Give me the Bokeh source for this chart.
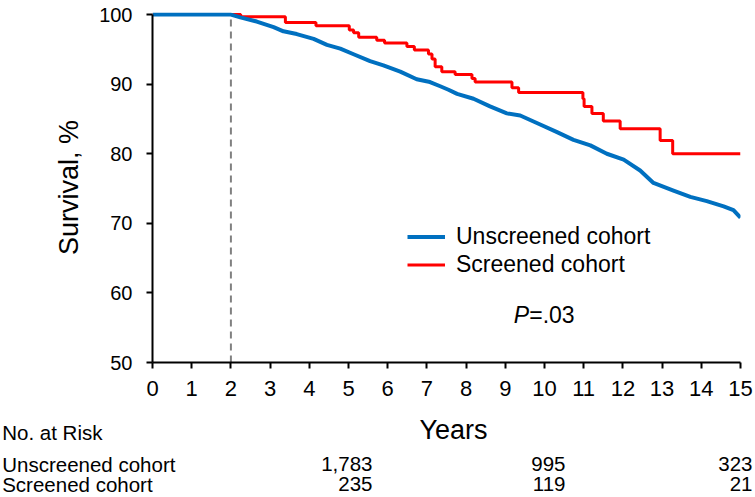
from bokeh.plotting import figure
from bokeh.layouts import column
from bokeh.models import Range1d, FixedTicker, Legend, LegendItem, Label
from bokeh.core.properties import value
from bokeh.embed import file_html
from bokeh.resources import INLINE

# ---------------- data ----------------
unscreened_years = [0, 2.0, 2.24, 2.66, 3.09, 3.34, 3.68, 4.11, 4.45, 4.79, 5.13, 5.55,
                    5.89, 6.32, 6.74, 7.08, 7.34, 7.55, 7.77, 8.19, 8.61, 9.04, 9.38,
                    9.89, 10.32, 10.74, 11.17, 11.59, 12.02, 12.44, 12.78, 13.29, 13.72,
                    14.14, 14.57, 14.82, 15.0]
unscreened_survival = [100, 100, 99.6, 99.0, 98.2, 97.6, 97.2, 96.5, 95.65, 95.1, 94.3, 93.3,
                       92.7, 91.8, 90.7, 90.3, 89.7, 89.2, 88.6, 87.9, 86.8, 85.8, 85.5,
                       84.2, 83.1, 82.0, 81.2, 80.0, 79.15, 77.6, 75.8, 74.7, 73.8,
                       73.2, 72.45, 71.9, 70.8]

screened_years = [0, 2.25, 3.39, 4.17, 5.02, 5.13, 5.26, 5.72, 5.92, 6.49, 6.68, 7.04,
                  7.13, 7.21, 7.38, 7.72, 8.15, 8.23, 9.17, 9.34, 10.98, 11.01, 11.21,
                  11.5, 11.93, 12.95, 13.27, 15.0]
screened_survival = [100, 99.7, 98.85, 98.4, 97.8, 97.4, 96.75, 96.3, 95.9, 95.4, 94.9, 94.35,
                     93.6, 92.5, 91.8, 91.4, 90.8, 90.3, 89.5, 88.8, 87.9, 86.8, 85.8,
                     84.7, 83.6, 81.9, 80.0, 80.0]

x_ticks = list(range(0, 16))
y_ticks = [50, 60, 70, 80, 90, 100]
landmark_year = 2

risk_times = [5, 10, 15]
risk_unscreened = ["1,783", "995", "323"]
risk_screened = ["235", "119", "21"]
series_names = ["Unscreened cohort", "Screened cohort"]
p_label = "P"
p_value = "=.03"

# ---------------- styling / layout ----------------
FONT = "Liberation Sans"
BLUE = "#0070C0"
RED = "#FF0000"
W = 755
TOP_H = 410
BOT_H = 87
LEFT = 152
RIGHT = 15
PX_PER_YEAR = (W - LEFT - RIGHT) / (x_ticks[-1] - x_ticks[0])

p = figure(width=W, height=TOP_H,
           x_range=Range1d(x_ticks[0], x_ticks[-1]),
           y_range=Range1d(y_ticks[0], y_ticks[-1] + 0.3),
           output_backend="svg", toolbar_location=None,
           min_border_left=LEFT, min_border_right=RIGHT,
           min_border_top=12, min_border_bottom=48)
p.frame_align = False

p.outline_line_color = None
p.xgrid.visible = False
p.ygrid.visible = False
p.background_fill_color = "white"
p.border_fill_color = "white"

for ax in (p.xaxis[0], p.yaxis[0]):
    ax.axis_line_width = 2
    ax.axis_line_color = "black"
    ax.major_tick_line_width = 2
    ax.major_tick_line_color = "black"
    ax.major_tick_out = 6
    ax.major_tick_in = 0
    ax.minor_tick_line_color = None
    ax.major_label_text_font = FONT
    ax.major_label_text_color = "black"
    ax.axis_label_text_font = FONT
    ax.axis_label_text_font_style = "normal"
    ax.axis_label_text_color = "black"

p.xaxis.ticker = FixedTicker(ticks=x_ticks)
p.xaxis.bounds = (x_ticks[0], x_ticks[-1])
p.xaxis.major_label_text_font_size = "22px"
p.xaxis.major_label_standoff = 12

p.yaxis.ticker = FixedTicker(ticks=y_ticks)
p.yaxis.bounds = (y_ticks[0], y_ticks[-1])
p.yaxis.major_label_text_font_size = "20px"
p.yaxis.major_label_standoff = 14
p.yaxis.axis_label = "Survival, %"
p.yaxis.axis_label_text_font_size = "27px"
p.yaxis.axis_label_standoff = 12

# landmark dashed line
p.segment(x0=[landmark_year], y0=[y_ticks[0]], x1=[landmark_year], y1=[y_ticks[-1]],
          line_color="#808080", line_width=2, line_dash="7 5")

# curves
r_red = p.step(screened_years, screened_survival, mode="after",
               line_color=RED, line_width=3)
r_blue = p.line(unscreened_years, unscreened_survival,
                line_color=BLUE, line_width=4, line_join="round")

legend = Legend(items=[LegendItem(label=series_names[0], renderers=[r_blue]),
                       LegendItem(label=series_names[1], renderers=[r_red])],
                location=(255, 84.5),
                label_text_font=FONT, label_text_font_size="23px",
                label_text_color="black",
                glyph_width=38, glyph_height=23, label_height=23,
                label_standoff=11, spacing=1, padding=0, margin=0,
                border_line_color=None, background_fill_alpha=0)
p.add_layout(legend)

# P value
p_y = 56.85
p.add_layout(Label(x=9.61, y=p_y, text=p_label, text_align="right",
                   text_baseline="alphabetic", text_font=FONT,
                   text_font_style="italic", text_font_size="23px", text_color="black"))
p.add_layout(Label(x=9.61, y=p_y, text=p_value, text_align="left",
                   text_baseline="alphabetic", text_font=FONT,
                   text_font_size="23px", text_color="black"))

# ---------------- lower panel: axis title + number at risk ----------------
x_lo = x_ticks[0] - LEFT / PX_PER_YEAR
x_hi = x_ticks[-1] + RIGHT / PX_PER_YEAR
t = figure(width=W, height=BOT_H,
           x_range=Range1d(x_lo, x_hi), y_range=Range1d(0, BOT_H),
           output_backend="svg", toolbar_location=None,
           x_axis_location=None, y_axis_location=None,
           min_border_left=0, min_border_right=0, min_border_top=0, min_border_bottom=0)
t.frame_align = False
t.outline_line_color = None
t.xgrid.visible = False
t.ygrid.visible = False
t.background_fill_color = "white"
t.border_fill_color = "white"

TABLE_FS = value("20.5px")
left_x = x_lo + 1.7 / PX_PER_YEAR
mid_x = (x_ticks[0] + x_ticks[-1]) / 2


def ypos(page_y):
    """page pixel row (from the top of the page) -> lower panel y"""
    return BOT_H - (page_y - TOP_H)


# "Years" axis title
t.text(x=[mid_x], y=[ypos(429.3)], text=["Years"], x_offset=7,
       text_align="center", text_baseline="alphabetic",
       text_font=value(FONT), text_font_size=value("27px"), text_color="black")
# table header
t.text(x=[left_x], y=[ypos(431.5)], text=["No. at Risk"],
       text_align="left", text_baseline="alphabetic",
       text_font=value(FONT), text_font_size=TABLE_FS, text_color="black")

row_y = [ypos(463.8), ypos(483.8)]
num_offsets = [24, 21, 12]
for name, vals, yy in zip(series_names, [risk_unscreened, risk_screened], row_y):
    t.text(x=[left_x], y=[yy], text=[name],
           text_align="left", text_baseline="alphabetic",
           text_font=value(FONT), text_font_size=TABLE_FS, text_color="black")
    for tm, v, off in zip(risk_times, vals, num_offsets):
        t.text(x=[tm], y=[yy], text=[v], x_offset=off,
               text_align="right", text_baseline="alphabetic",
               text_font=value(FONT), text_font_size=TABLE_FS, text_color="black")

layout = column(p, t, spacing=0)
open("out.html", "w").write(file_html(layout, INLINE))
